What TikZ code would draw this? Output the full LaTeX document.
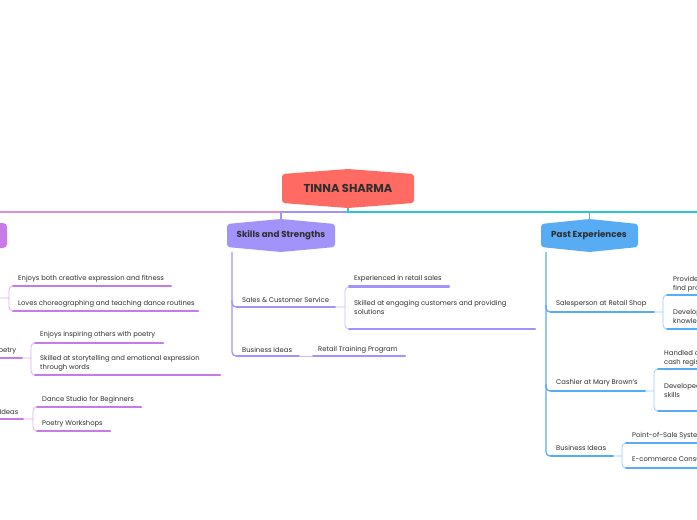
\documentclass[tikz,border=0pt]{standalone}
\usepackage{fontspec}
\setmainfont{Poppins}
\usetikzlibrary{positioning}
\definecolor{rootRed}{HTML}{FF6B62}
\definecolor{inkDark}{HTML}{2E2E2E}
\definecolor{danceViolet}{HTML}{C77BE7}
\definecolor{dancePink}{HTML}{E08DD3}
\definecolor{skillLilac}{HTML}{A293FA}
\definecolor{pastBlue}{HTML}{58ACF4}
\definecolor{lineCyan}{HTML}{2BC4DA}
\newcommand{\topicbox}[5]{\fill[#1, rounded corners=3pt] (#2,#4+5) -- ({(#2+#3)/2},#4) -- (#3,#4+5) -- (#3,#5-5) -- ({(#2+#3)/2},#5) -- (#2,#5-5) -- cycle;}
\tikzset{
  leaf/.style={anchor=west, inner sep=0pt, yshift=-1.2pt, font=\fontsize{6.8}{9}\selectfont, text=inkDark, align=left},
  topic/.style={inner sep=0pt, minimum height=33pt, font=\fontsize{8.7}{10}\selectfont\bfseries, text=inkDark},
  uline/.style={line width=2.5pt, line cap=round},
  trunk/.style={line width=1.3pt, rounded corners=4pt},
  brace/.style={line width=0.8pt, rounded corners=4pt},
}
\begin{document}
\begin{tikzpicture}[x=1pt, y=-1pt]
  \useasboundingbox (0,0) rectangle (697,520);
  \fill[white] (0,0) rectangle (697,520);

  \coordinate (hub) at (348,212);
  \draw[dancePink, line width=1.2pt] (hub) -- (-5,212);
  \topicbox{rootRed}{282}{414}{169}{208}
  \node[topic, minimum height=39pt, font=\fontsize{11.5}{13}\selectfont\bfseries] (root) at (348,188.5) {TINNA SHARMA};

  \fill[danceViolet, rounded corners=4pt] (-40,223) rectangle (7,248);
  \topicbox{skillLilac}{227}{335}{219}{252}
  \node[topic] (skills) at (281,235.5) {Skills and Strengths};
  \topicbox{pastBlue}{541}{638}{219}{252}
  \node[topic] (past) at (589,235.5) {Past Experiences};

  \draw[skillLilac, line width=1.2pt] (hub) -- (skills.north |- hub) -- (skills.north);
  \draw[lineCyan, line width=1.2pt] (root.south) -- (hub) -- (705,212);
  \draw[pastBlue, line width=1pt] (past.north |- hub) -- (past.north);

  \foreach \tx/\ty/\uy/\ua/\ub/\txt [count=\i] in {
      18/278/286/13/171/{Enjoys both creative expression and fitness},
      18/302.5/311/13/198/{Loves choreographing and teaching dance routines},
      40/334/343/35/163/{Enjoys inspiring others with poetry},
      40/362.5/375/35/220/{Skilled at storytelling and emotional expression\\through words},
      42/399/407/37/141/{Dance Studio for Beginners},
      42/423/431/37/110/{Poetry Workshops}} {
    \node[leaf] (d-\i) at (\tx,\ty) {\txt};
    \draw[uline, danceViolet] (\ua,\uy) -- (\ub,\uy);
  }
  \node[leaf, anchor=east] (d-poetry) at (16.5,350) {Poetry};
  \node[leaf, anchor=east] (d-ideas) at (18.5,411) {Business Ideas};
  \draw[uline, danceViolet] (-30,358) -- (22,358);
  \draw[uline, danceViolet] (-60,419) -- (23,419);
  \foreach \pa/\py/\bx/\yt/\yb in {-5/298/9/286/311, 22/358/31/343/375, 23/419/33/407/431}
    \draw[brace, danceViolet!60] (\pa,\py) -- (\bx,\py) (\bx+4,\yt) -- (\bx,\yt) -- (\bx,\yb) -- (\bx+4,\yb);

  \draw[trunk, skillLilac] (skills.south -| 232,0) -- (232,356) -- (237,356);
  \draw[trunk, skillLilac] (232,300) -- (232,307) -- (237,307);
  \foreach \tx/\ty/\uy/\ua/\ub/\txt [count=\i] in {
      242/299/307/237/335/{Sales \& Customer Service},
      354/278/286.5/349/449/{Experienced in retail sales},
      354/306.5/329/349/535/{Skilled at engaging customers and providing\\solutions},
      242/348.5/356/237/299/{Business Ideas},
      318/348.5/356/313/405/{Retail Training Program}} {
    \node[leaf] (s-\i) at (\tx,\ty) {\txt};
    \draw[uline, skillLilac] (\ua,\uy) -- (\ub,\uy);
  }
  \draw[brace, skillLilac!60] (335,307) -- (345,307) (349,287) -- (345,287) -- (345,329) -- (349,329);
  \draw[brace, skillLilac!60] (299,356) -- (313,356);

  \draw[trunk, pastBlue] (past.south -| 546,0) -- (546,456) -- (551,456);
  \foreach \py in {312, 391}
    \draw[trunk, pastBlue] (546,\py-7) -- (546,\py) -- (551,\py);
  \foreach \tx/\ty/\uy/\ua/\ub/\txt [count=\i] in {
      556/303/312/551/654/{Salesperson at Retail Shop},
      673/283/295/667/760/{Provided assistance to help customers\\find products},
      673/316/329/667/760/{Developed strong product\\knowledge},
      556/382/391/551/645/{Cashier at Mary Brown's},
      664/357.5/369/658/760/{Handled cash transactions and\\cash register},
      664/389/411/658/760/{Developed customer service\\skills},
      556/447/456/551/613/{Business Ideas},
      632/435/443/626/760/{Point-of-Sale Systems Training},
      632/459/468/626/760/{E-commerce Consulting}} {
    \node[leaf] (p-\i) at (\tx,\ty) {\txt};
    \draw[uline, pastBlue] (\ua,\uy) -- (\ub,\uy);
  }
  \foreach \pa/\py/\bx/\yt/\yb in {654/312/663/295/329, 645/391/654/369/411, 613/456/622/443/468}
    \draw[brace, pastBlue!60] (\pa,\py) -- (\bx,\py) (\bx+4,\yt) -- (\bx,\yt) -- (\bx,\yb) -- (\bx+4,\yb);
\end{tikzpicture}
\end{document}
